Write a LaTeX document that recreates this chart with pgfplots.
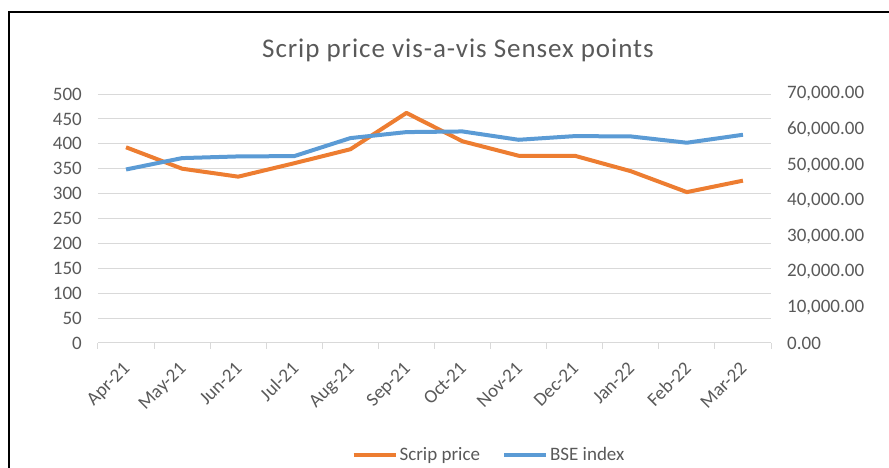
\documentclass[border=0pt]{standalone}
\usepackage{fontspec}
\setmainfont{Carlito}
\usepackage{pgfplots}
\pgfplotsset{compat=1.18}
\definecolor{xlorange}{HTML}{ED7D31}
\definecolor{xlblue}{HTML}{5B9BD5}
\definecolor{xlgrid}{HTML}{D9D9D9}
\definecolor{xltext}{HTML}{595959}
\pgfplotsset{
  xlcommon/.style={
    at={(98pt,125pt)}, anchor=south west,
    scale only axis, width=673pt, height=249pt,
    xmin=-0.5, xmax=11.5,
    tick label style={font=\fontsize{19}{22}\selectfont, text=xltext},
    /pgf/number format/assume math mode=true,
    scaled y ticks=false,
  },
}
\begin{document}
\begin{tikzpicture}[x=1pt,y=1pt]
\useasboundingbox (0,0) rectangle (889,468);
\draw[black, line width=1.1pt] (9,-20) -- (9,456) -- (900,456);
\node[anchor=base, text=xltext, font=\fontsize{27}{30}\selectfont\addfontfeatures{LetterSpace=3.5}] at (458,410) {Scrip price vis-a-vis Sensex points};

\begin{axis}[xlcommon,
  ymin=0, ymax=500, ytick={0,50,...,500},
  axis x line*=bottom, axis y line*=left,
  y axis line style={draw=none},
  x axis line style={draw=xlgrid, line width=1pt, -},
  ymajorgrids, grid style={draw=xlgrid, line width=1pt},
  xtick={0,...,11},
  xticklabels={Apr-21,May-21,Jun-21,Jul-21,Aug-21,Sep-21,Oct-21,Nov-21,Dec-21,Jan-22,Feb-22,Mar-22},
  xticklabel style={xshift=-4pt, yshift=-16pt, rotate=45, anchor=north east, inner sep=1pt},
  yticklabel style={anchor=east, inner sep=0pt, xshift=-16pt},
  major tick length=0pt,
  extra x ticks={-0.5,0.5,...,11.5},
  extra x tick labels={},
  extra x tick style={tick align=outside, major tick length=6pt, tick style={draw=xlgrid, line width=1pt}},
]
\addplot[xlorange, line width=4pt, line join=round] coordinates {
(0,393) (1,350) (2,334) (3,361) (4,389) (5,462) (6,405) (7,376) (8,376) (9,345) (10,303) (11,326)};
\end{axis}

\begin{axis}[xlcommon,
  ymin=0, ymax=70000, ytick={0,10000,...,70000},
  axis x line=none, axis y line*=right,
  y axis line style={draw=none},
  major tick length=0pt,
  yticklabel style={anchor=west, inner sep=0pt, xshift=16pt,
    /pgf/number format/.cd, fixed, fixed zerofill, precision=2, 1000 sep={,}},
  legend style={at={(0.581,-0.45)}, anchor=center, draw=none, fill=none,
    font=\fontsize{19}{22}\selectfont, text=xltext,
    legend columns=2, /tikz/every even column/.append style={column sep=20pt}},
  legend image code/.code={\draw[#1] (0pt,0pt) -- (42pt,0pt);},
]
\addlegendimage{xlorange, line width=4pt}
\addlegendentry{Scrip price}
\addplot[xlblue, line width=4pt, line join=round] coordinates {
(0,48780) (1,51980) (2,52450) (3,52540) (4,57600) (5,59290) (6,59470) (7,57130) (8,58160) (9,58070) (10,56300) (11,58540)};
\addlegendentry{BSE index}
\end{axis}
\end{tikzpicture}
\end{document}
